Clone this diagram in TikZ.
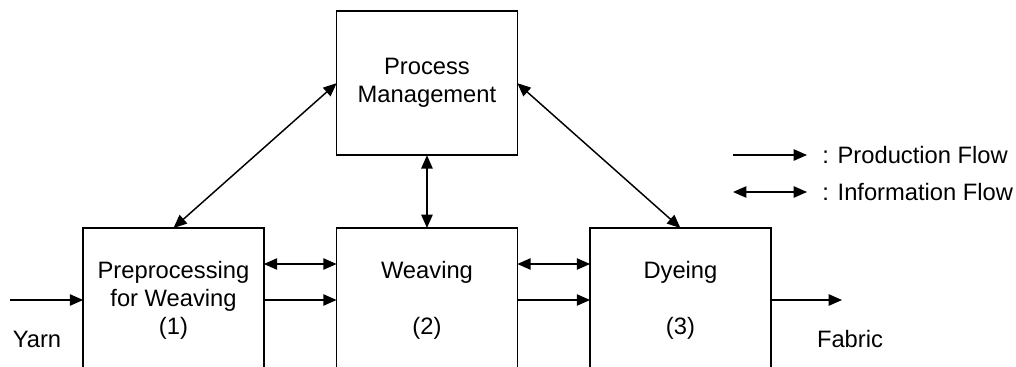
\documentclass[tikz,border=0pt]{standalone}
\usepackage{fontspec}
\setmainfont{Liberation Sans}
\usepackage{tikz}
\usetikzlibrary{arrows.meta,positioning}

\begin{document}
\begin{tikzpicture}[
  x=0.75pt, y=-0.75pt,
  node distance=54.6pt,
  font=\fontsize{17.8}{21}\selectfont,
  stage/.style={draw, line width=1.1pt, minimum width=135.5pt, minimum height=108pt, align=center, inner sep=0pt, outer sep=0pt},
  flow/.style={-{Triangle[length=10pt, width=8.5pt]}, line width=1.1pt},
  info/.style={{Triangle[length=10pt, width=8.5pt]}-{Triangle[length=10pt, width=8.5pt]}, line width=1.1pt},
  label/.style={inner sep=0pt}
]
  \clip (0,0) rectangle (1016,367);

  % stages
  \node[stage] (prep) at (173.5,300) {Preprocessing\\for Weaving\\(1)};
  \node[stage, right=of prep] (weav) {Weaving\\\mbox{}\\(2)};
  \node[stage, right=of weav] (dye) {Dyeing\\\mbox{}\\(3)};
  \node[stage, above=of weav] (pm) {Process\\Management};

  % outside
  \coordinate (yarn-in) at (10,300);
  \coordinate (fabric-out) at (842,300);
  \node[label] (yarn) at (37,339) {Yarn};
  \node[label] (fabric) at (850,339) {Fabric};

  \draw[flow] (yarn-in) -- (prep.west);
  \draw[flow] (dye.east) -- (fabric-out);

  % production and information between stages
  \draw[info] ([yshift=27pt]prep.east) -- ([yshift=27pt]weav.west);
  \draw[flow] (prep.east) -- (weav.west);
  \draw[info] ([yshift=27pt]weav.east) -- ([yshift=27pt]dye.west);
  \draw[flow] (weav.east) -- (dye.west);

  \draw[info] (prep.north) -- (pm.west);
  \draw[info] (pm.south) -- (weav.north);
  \draw[info] (dye.north) -- (pm.east);

  % legend
  \coordinate (leg1-a) at (733,155);
  \coordinate (leg1-b) at (807,155);
  \coordinate (leg2-a) at (733,192);
  \coordinate (leg2-b) at (807,192);
  \draw[flow] (leg1-a) -- (leg1-b);
  \draw[info] (leg2-a) -- (leg2-b);
  \node[label, anchor=west] (leg1) at (822,155) {: Production Flow};
  \node[label, anchor=west] (leg2) at (822,192) {: Information Flow};
\end{tikzpicture}
\end{document}
